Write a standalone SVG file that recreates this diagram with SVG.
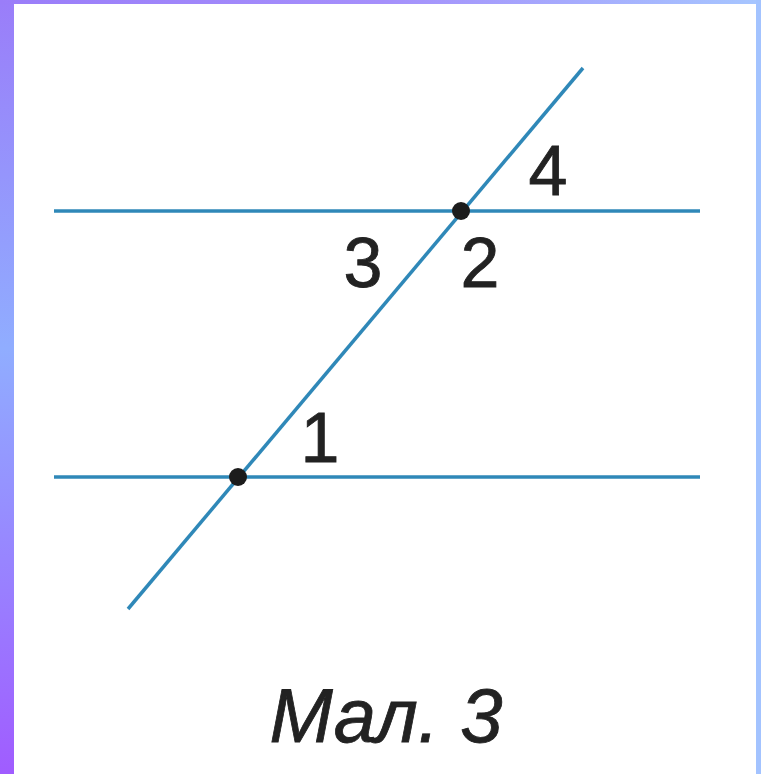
<svg xmlns="http://www.w3.org/2000/svg" width="761" height="774" viewBox="0 0 761 774">
  <defs>
    <linearGradient id="gLeft" x1="0" y1="0" x2="0" y2="1">
      <stop offset="0" stop-color="#9a7df9"/>
      <stop offset="0.45" stop-color="#90adff"/>
      <stop offset="1" stop-color="#a05cff"/>
    </linearGradient>
    <linearGradient id="gTop" x1="0" y1="0" x2="1" y2="0">
      <stop offset="0" stop-color="#9a7df9"/>
      <stop offset="0.5" stop-color="#a58ffb"/>
      <stop offset="1" stop-color="#a6c6ff"/>
    </linearGradient>
    <style>
      .ln { stroke: #2f88b8; stroke-width: 3.5; fill: none; stroke-linecap: butt; }
      .pt { fill: #1c1c1c; }
      .num { font-family: "Liberation Sans", Arial, sans-serif; font-size: 70px; fill: #222; stroke: #222; stroke-width: 0.8; text-anchor: middle; }
      .cap { font-family: "Liberation Sans", Arial, sans-serif; font-size: 76px; font-style: italic; fill: #222; stroke: #222; stroke-width: 0.8; text-anchor: middle; }
    </style>
  </defs>
  <rect x="0" y="0" width="761" height="774" fill="#ffffff"/>
  <rect x="0" y="0" width="14" height="774" fill="url(#gLeft)"/>
  <rect x="0" y="0" width="761" height="4" fill="url(#gTop)"/>
  <rect x="756" y="0" width="5" height="774" fill="#a3c3ff"/>

  <g id="connectors">
    <line class="ln" x1="54" y1="211" x2="700" y2="211"/>
    <line class="ln" x1="54" y1="477" x2="700" y2="477"/>
    <line class="ln" x1="128" y1="609" x2="583" y2="68"/>
  </g>

  <g id="pointA"><circle class="pt" cx="461" cy="211" r="9"/></g>
  <g id="pointB"><circle class="pt" cx="238" cy="477" r="9"/></g>

  <g id="label1"><text class="num" x="320" y="462">1</text></g>
  <g id="label2"><text class="num" x="480" y="287">2</text></g>
  <g id="label3"><text class="num" x="363" y="287">3</text></g>
  <g id="label4"><text class="num" x="548" y="195">4</text></g>

  <g id="caption"><text class="cap" x="386" y="742">Мал. 3</text></g>
</svg>
